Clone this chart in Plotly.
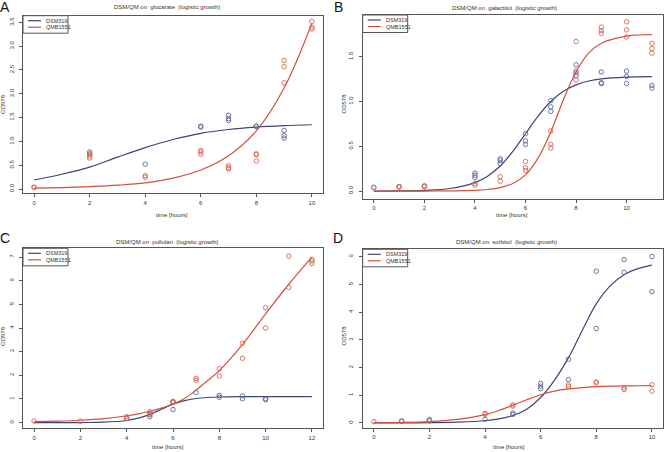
import plotly.graph_objects as go

# ---------------- data ----------------
# Panel A: glucarate
A_dsm_t = [2, 2, 4, 6, 6, 7, 7, 7, 8, 8, 9, 9, 9]
A_dsm_od = [0.78, 0.74, 0.52, 1.32, 1.30, 1.55, 1.48, 1.44, 1.32, 1.31, 1.23, 1.12, 1.07]
A_qmb_t = [0, 0, 2, 2, 2, 4, 4, 6, 6, 6, 7, 7, 7, 8, 8, 8, 9, 9, 9, 10, 10, 10]
A_qmb_od = [0.04, 0.03, 0.73, 0.69, 0.65, 0.28, 0.25, 0.81, 0.78, 0.73, 0.49, 0.45, 0.42,
            0.74, 0.72, 0.59, 2.70, 2.57, 2.23, 3.52, 3.40, 3.36]
A_fit_t = [0, 1, 2, 3, 4, 5, 6, 7, 8, 9, 10]
A_fit_dsm = [0.19, 0.31, 0.46, 0.67, 0.87, 1.04, 1.17, 1.25, 1.30, 1.33, 1.35]
A_fit_qmb = [0.02, 0.03, 0.05, 0.08, 0.13, 0.23, 0.40, 0.70, 1.22, 2.12, 3.48]

# Panel B: galactitol
B_dsm_t = [0, 1, 2, 4, 4, 4, 5, 5, 5, 6, 6, 6, 7, 7, 7, 8, 8, 8, 9, 9, 9, 10, 10, 10, 11, 11]
B_dsm_od = [0.04, 0.05, 0.05, 0.20, 0.175, 0.15, 0.36, 0.34, 0.31, 0.64, 0.56, 0.52, 1.01, 0.94, 0.89,
            1.41, 1.32, 1.29, 1.33, 1.21, 1.20, 1.34, 1.28, 1.20, 1.18, 1.15]
B_qmb_t = [0, 1, 1, 2, 2, 4, 4, 5, 5, 6, 6, 6, 7, 7, 7, 8, 8, 8, 9, 9, 9, 10, 10, 10, 11, 11, 11]
B_qmb_od = [0.04, 0.05, 0.045, 0.06, 0.05, 0.085, 0.065, 0.16, 0.11, 0.33, 0.26, 0.23, 0.67, 0.52, 0.48,
            1.67, 1.34, 1.24, 1.83, 1.79, 1.76, 1.89, 1.80, 1.72, 1.65, 1.59, 1.54]
B_fit_t = [0, 1, 2, 3, 4, 4.5, 5, 5.5, 6, 6.5, 7, 7.5, 8, 8.5, 9, 10, 11]
B_fit_dsm = [0.0, 0.002, 0.008, 0.028, 0.094, 0.166, 0.28, 0.443, 0.64, 0.837, 1.0, 1.114, 1.186,
             1.229, 1.252, 1.272, 1.278]
B_fit_qmb = [0.0, 0.0, 0.0, 0.002, 0.0075, 0.017, 0.038, 0.085, 0.18, 0.37, 0.66, 1.02, 1.33,
             1.54, 1.65, 1.73, 1.746]

# Panel C: pullulan
C_dsm_t = [4, 5, 5, 6, 6, 7, 8, 8, 9, 9, 10, 10]
C_dsm_od = [0.17, 0.35, 0.25, 0.89, 0.55, 1.27, 1.15, 1.07, 1.13, 1.01, 1.01, 0.97]
C_qmb_t = [0, 2, 4, 4, 5, 5, 5, 6, 6, 7, 7, 8, 8, 9, 9, 10, 10, 11, 11, 12, 12, 12]
C_qmb_od = [0.07, 0.06, 0.25, 0.18, 0.46, 0.39, 0.34, 0.89, 0.85, 1.87, 1.79, 2.28, 1.97, 3.35, 2.72,
            4.86, 4.00, 7.04, 5.72, 6.90, 6.83, 6.73]
C_fit_t = [0, 1, 2, 3, 4, 4.5, 5, 5.5, 6, 6.5, 7, 7.5, 8, 9, 10, 11, 12]
C_fit_dsm = [0.0, 0.001, 0.004, 0.019, 0.09, 0.188, 0.351, 0.568, 0.78, 0.933, 1.02, 1.063, 1.084,
             1.097, 1.10, 1.10, 1.10]
C_fit_qmb = [0.04, 0.06, 0.10, 0.17, 0.29, 0.37, 0.48, 0.61, 0.78, 1.02, 1.38, 1.78, 2.20, 3.30,
             4.60, 5.85, 7.00]

# Panel D: sorbitol
D_dsm_t = [1, 2, 4, 5, 5, 6, 6, 6, 7, 7, 8, 8, 9, 9, 10, 10]
D_dsm_od = [0.07, 0.10, 0.13, 0.36, 0.31, 1.43, 1.33, 1.24, 2.30, 1.57, 5.48, 3.41, 5.90, 5.44, 6.01, 4.74]
D_qmb_t = [0, 1, 1, 2, 2, 4, 4, 5, 5, 7, 7, 8, 8, 9, 9, 10, 10]
D_qmb_od = [0.05, 0.07, 0.05, 0.13, 0.07, 0.35, 0.31, 0.65, 0.61, 1.37, 1.31, 1.48, 1.45, 1.27, 1.21,
            1.38, 1.15]
D_fit_t = [0, 1, 2, 3, 4, 4.5, 5, 5.5, 6, 6.5, 7, 7.5, 8, 8.5, 9, 9.5, 10]
D_fit_dsm = [0.0, 0.0, 0.01, 0.03, 0.08, 0.15, 0.27, 0.50, 0.92, 1.55, 2.35, 3.35, 4.30, 4.95, 5.35,
             5.57, 5.70]
D_fit_qmb = [0.01, 0.02, 0.05, 0.13, 0.30, 0.45, 0.64, 0.84, 1.02, 1.15, 1.23, 1.28, 1.31, 1.33, 1.34,
             1.345, 1.35]

series_names = ["DSM319", "QMB1551"]
panel_letters = ["A", "B", "C", "D"]
panel_titles = ["DSM/QM on  glucarate  (logistic growth)",
                "DSM/QM on  galactitol  (logistic growth)",
                "DSM/QM on  pullulan  (logistic growth)",
                "DSM/QM on  sorbitol  (logistic growth)"]
x_title = "time [hours]"
y_title = "OD578"

# ---------------- styling / layout ----------------
W, H = 664, 452
BLUE_LINE = "#3c4478"
BLUE_PT = "#5d6899"
RED_LINE = "#d4503a"
RED_PT = "#dc644f"
FRAME = "#555555"
TXT = "#333333"
FONT = "Liberation Sans, Arial, sans-serif"


def px(x):
    return x / W


def py(y):
    return 1 - y / H


panels = [
    dict(dsm=(A_dsm_t, A_dsm_od), qmb=(A_qmb_t, A_qmb_od), fit=(A_fit_t, A_fit_dsm, A_fit_qmb),
         box=(23, 323, 15.7, 193.3), xr=[-0.4, 10.4], yr=[-0.09, 3.64], xd=2, yd=0.5, yfmt=".1f",
         title=(167, 7), xlab=(172, 215), ylab=(3, 104), letter=(5, 7)),
    dict(dsm=(B_dsm_t, B_dsm_od), qmb=(B_qmb_t, B_qmb_od), fit=(B_fit_t, B_fit_dsm, B_fit_qmb),
         box=(362.7, 663, 15, 199), xr=[-0.44, 11.44], yr=[-0.089, 1.966], xd=2, yd=0.5, yfmt=".1f",
         title=(504, 8), xlab=(512, 215), ylab=(343.5, 104), letter=(338, 7)),
    dict(dsm=(C_dsm_t, C_dsm_od), qmb=(C_qmb_t, C_qmb_od), fit=(C_fit_t, C_fit_dsm, C_fit_qmb),
         box=(23, 323, 248.3, 428.3), xr=[-0.48, 12.48], yr=[-0.24, 7.37], xd=2, yd=1, yfmt="d",
         title=(167, 242), xlab=(168, 447), ylab=(3, 336), letter=(5, 238)),
    dict(dsm=(D_dsm_t, D_dsm_od), qmb=(D_qmb_t, D_qmb_od), fit=(D_fit_t, D_fit_dsm, D_fit_qmb),
         box=(362.7, 663, 249.3, 427.7), xr=[-0.4, 10.4], yr=[-0.17, 6.27], xd=2, yd=1, yfmt="d",
         title=(507, 242), xlab=(509, 447), ylab=(343.5, 336), letter=(338, 238)),
]

fig = go.Figure()
annotations = []
shapes = []

for i, p in enumerate(panels):
    k = "" if i == 0 else str(i + 1)
    xa, ya = "x" + k, "y" + k
    x0, x1, y0, y1 = p["box"]
    fit_t, fit_d, fit_q = p["fit"]
    fig.add_trace(go.Scatter(x=fit_t, y=fit_d, mode="lines", xaxis=xa, yaxis=ya,
                             line=dict(color=BLUE_LINE, width=1.2, shape="spline", smoothing=1),
                             name=series_names[0], showlegend=False, hoverinfo="skip"))
    fig.add_trace(go.Scatter(x=fit_t, y=fit_q, mode="lines", xaxis=xa, yaxis=ya,
                             line=dict(color=RED_LINE, width=1.2, shape="spline", smoothing=1),
                             name=series_names[1], showlegend=False, hoverinfo="skip"))
    fig.add_trace(go.Scatter(x=p["dsm"][0], y=p["dsm"][1], mode="markers", xaxis=xa, yaxis=ya,
                             marker=dict(symbol="circle-open", size=4.5, color=BLUE_PT,
                                         line=dict(width=0.9, color=BLUE_PT)),
                             name=series_names[0], showlegend=False))
    fig.add_trace(go.Scatter(x=p["qmb"][0], y=p["qmb"][1], mode="markers", xaxis=xa, yaxis=ya,
                             marker=dict(symbol="circle-open", size=4.5, color=RED_PT,
                                         line=dict(width=0.9, color=RED_PT)),
                             name=series_names[1], showlegend=False))

    common = dict(showgrid=False, zeroline=False, showline=True, mirror=True, linecolor=FRAME,
                  linewidth=1, ticks="outside", ticklen=3, tickwidth=1, tickcolor=FRAME,
                  tickfont=dict(family=FONT, size=6, color=TXT))
    fig.layout["xaxis" + k] = dict(domain=[px(x0), px(x1)], range=p["xr"], anchor=ya,
                                   tick0=0, dtick=p["xd"], **common)
    fig.layout["yaxis" + k] = dict(domain=[py(y1), py(y0)], range=p["yr"], anchor=xa,
                                   tick0=0, dtick=p["yd"], tickformat=p["yfmt"], tickangle=-90,
                                   ticklabelstandoff=3, **common)

    # titles and labels
    annotations.append(dict(text=panel_titles[i], x=px(p["title"][0]), y=py(p["title"][1]),
                            xref="paper", yref="paper", showarrow=False, xanchor="center",
                            yanchor="middle", font=dict(family=FONT, size=6, color=TXT)))
    annotations.append(dict(text=x_title, x=px(p["xlab"][0]), y=py(p["xlab"][1]),
                            xref="paper", yref="paper", showarrow=False, xanchor="center",
                            yanchor="middle", font=dict(family=FONT, size=6, color=TXT)))
    annotations.append(dict(text=y_title, x=px(p["ylab"][0]), y=py(p["ylab"][1]), textangle=-90,
                            xref="paper", yref="paper", showarrow=False, xanchor="center",
                            yanchor="middle", font=dict(family=FONT, size=6, color=TXT)))
    annotations.append(dict(text=panel_letters[i], x=px(p["letter"][0]), y=py(p["letter"][1]),
                            xref="paper", yref="paper", showarrow=False, xanchor="center",
                            yanchor="middle", font=dict(family=FONT, size=14, color="#111111")))

    # legend box (top-left inside plot)
    lx0, ly0 = x0, y0
    lx1, ly1 = x0 + 45, y0 + 17.5
    shapes.append(dict(type="rect", xref="paper", yref="paper", x0=px(lx0), x1=px(lx1),
                       y0=py(ly1), y1=py(ly0), line=dict(color=FRAME, width=1),
                       fillcolor="white", layer="above"))
    for j, (nm, col) in enumerate(zip(series_names, [BLUE_LINE, RED_LINE])):
        yy = ly0 + 5 + j * 6.5
        shapes.append(dict(type="line", xref="paper", yref="paper", x0=px(lx0 + 5), x1=px(lx0 + 18),
                           y0=py(yy), y1=py(yy), line=dict(color=col, width=1.2), layer="above"))
        annotations.append(dict(text=nm, x=px(lx0 + 21), y=py(yy), xref="paper", yref="paper",
                                showarrow=False, xanchor="left", yanchor="middle",
                                font=dict(family=FONT, size=5.5, color=TXT)))

fig.update_layout(width=W, height=H, margin=dict(l=0, r=0, t=0, b=0),
                  paper_bgcolor="white", plot_bgcolor="white",
                  annotations=annotations, shapes=shapes, showlegend=False)

fig.write_html("out.html", config={"displayModeBar": False},
               post_script="document.body.style.margin='0';document.body.style.overflow='hidden';")
